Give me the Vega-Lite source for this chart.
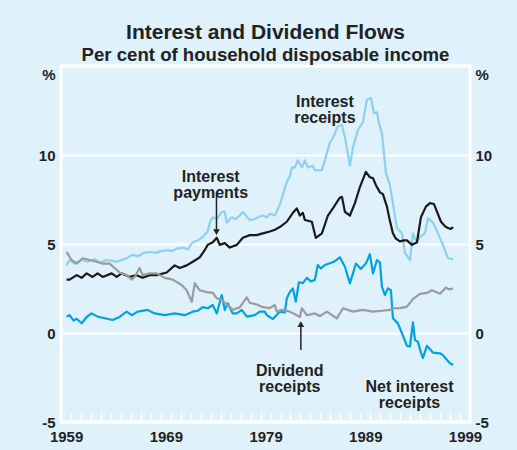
{
  "$schema": "https://vega.github.io/schema/vega-lite/v6.json",
  "width": 409,
  "height": 356,
  "autosize": {"type": "none"},
  "padding": {"left": 61, "top": 66, "right": 47, "bottom": 28},
  "background": "#DFF1FA",
  "title": {
    "text": "Interest and Dividend Flows",
    "subtitle": "Per cent of household disposable income",
    "anchor": "middle",
    "font": "Liberation Sans",
    "fontSize": 21,
    "fontWeight": "bold",
    "color": "#222222",
    "subtitleFont": "Liberation Sans",
    "subtitleFontSize": 18.6,
    "subtitleFontWeight": "bold",
    "subtitleColor": "#222222",
    "subtitlePadding": 3,
    "offset": 1
  },
  "config": {
    "view": {"stroke": "white", "strokeWidth": 3, "fill": null},
    "axis": {"labelFont": "Liberation Sans", "labelFontSize": 15, "labelFontWeight": "bold", "labelColor": "#222222", "title": null}
  },
  "datasets": {
    "series": [
      {"s":"IR","year":1959.55,"value":3.8},{"s":"IR","year":1959.85,"value":4.1},{"s":"IR","year":1960.36,"value":3.9},{"s":"IR","year":1961.06,"value":4.1},{"s":"IR","year":1961.66,"value":4.0},{"s":"IR","year":1962.36,"value":4.15},{"s":"IR","year":1962.86,"value":3.95},{"s":"IR","year":1963.57,"value":4.1},{"s":"IR","year":1964.17,"value":4.05},{"s":"IR","year":1964.57,"value":4.0},{"s":"IR","year":1965.07,"value":4.1},{"s":"IR","year":1965.57,"value":4.2},{"s":"IR","year":1966.18,"value":4.4},{"s":"IR","year":1966.68,"value":4.3},{"s":"IR","year":1967.28,"value":4.5},{"s":"IR","year":1967.88,"value":4.55},{"s":"IR","year":1968.49,"value":4.5},{"s":"IR","year":1968.99,"value":4.6},{"s":"IR","year":1969.59,"value":4.65},{"s":"IR","year":1970.09,"value":4.6},{"s":"IR","year":1970.69,"value":4.75},{"s":"IR","year":1971.2,"value":4.8},{"s":"IR","year":1971.7,"value":4.7},{"s":"IR","year":1972.2,"value":5.1},{"s":"IR","year":1972.7,"value":5.2},{"s":"IR","year":1973.2,"value":5.4},{"s":"IR","year":1973.7,"value":5.7},{"s":"IR","year":1973.9,"value":6.2},{"s":"IR","year":1974.21,"value":6.5},{"s":"IR","year":1974.61,"value":6.4},{"s":"IR","year":1975.11,"value":6.8},{"s":"IR","year":1975.41,"value":6.8},{"s":"IR","year":1975.61,"value":6.2},{"s":"IR","year":1975.91,"value":6.4},{"s":"IR","year":1976.11,"value":6.5},{"s":"IR","year":1976.52,"value":6.4},{"s":"IR","year":1976.92,"value":6.6},{"s":"IR","year":1977.22,"value":6.8},{"s":"IR","year":1977.52,"value":6.6},{"s":"IR","year":1977.92,"value":6.35},{"s":"IR","year":1978.42,"value":6.4},{"s":"IR","year":1978.92,"value":6.55},{"s":"IR","year":1979.23,"value":6.6},{"s":"IR","year":1979.63,"value":6.5},{"s":"IR","year":1979.93,"value":6.7},{"s":"IR","year":1980.43,"value":6.6},{"s":"IR","year":1980.93,"value":7.2},{"s":"IR","year":1981.63,"value":8.5},{"s":"IR","year":1981.94,"value":8.8},{"s":"IR","year":1982.14,"value":9.3},{"s":"IR","year":1982.44,"value":9.3},{"s":"IR","year":1982.74,"value":9.7},{"s":"IR","year":1983.14,"value":9.3},{"s":"IR","year":1983.44,"value":9.7},{"s":"IR","year":1983.74,"value":9.3},{"s":"IR","year":1984.24,"value":9.4},{"s":"IR","year":1984.44,"value":9.15},{"s":"IR","year":1985.15,"value":9.15},{"s":"IR","year":1985.45,"value":9.7},{"s":"IR","year":1985.95,"value":10.7},{"s":"IR","year":1986.25,"value":10.95},{"s":"IR","year":1986.75,"value":11.6},{"s":"IR","year":1987.15,"value":11.7},{"s":"IR","year":1987.46,"value":11.0},{"s":"IR","year":1987.96,"value":9.4},{"s":"IR","year":1988.26,"value":10.4},{"s":"IR","year":1988.76,"value":11.4},{"s":"IR","year":1989.26,"value":11.85},{"s":"IR","year":1989.66,"value":13.1},{"s":"IR","year":1990.07,"value":13.2},{"s":"IR","year":1990.37,"value":12.35},{"s":"IR","year":1990.67,"value":12.4},{"s":"IR","year":1990.87,"value":11.8},{"s":"IR","year":1991.17,"value":11.2},{"s":"IR","year":1991.57,"value":9.0},{"s":"IR","year":1991.97,"value":8.3},{"s":"IR","year":1992.27,"value":7.3},{"s":"IR","year":1992.67,"value":5.9},{"s":"IR","year":1993.18,"value":5.6},{"s":"IR","year":1993.48,"value":4.5},{"s":"IR","year":1993.98,"value":4.1},{"s":"IR","year":1994.28,"value":5.6},{"s":"IR","year":1994.68,"value":5.05},{"s":"IR","year":1994.98,"value":5.4},{"s":"IR","year":1995.48,"value":5.6},{"s":"IR","year":1995.79,"value":6.45},{"s":"IR","year":1996.29,"value":6.2},{"s":"IR","year":1996.79,"value":5.6},{"s":"IR","year":1997.29,"value":4.95},{"s":"IR","year":1997.79,"value":4.2},{"s":"IR","year":1998.3,"value":4.15},

      {"s":"IP","year":1959.55,"value":3.0},{"s":"IP","year":1959.85,"value":3.0},{"s":"IP","year":1960.56,"value":3.25},{"s":"IP","year":1961.06,"value":3.1},{"s":"IP","year":1961.56,"value":3.35},{"s":"IP","year":1962.16,"value":3.15},{"s":"IP","year":1962.66,"value":3.35},{"s":"IP","year":1963.17,"value":3.15},{"s":"IP","year":1964.07,"value":3.35},{"s":"IP","year":1964.57,"value":3.15},{"s":"IP","year":1965.07,"value":3.35},{"s":"IP","year":1965.88,"value":3.15},{"s":"IP","year":1966.58,"value":3.25},{"s":"IP","year":1967.17,"value":3.1},{"s":"IP","year":1967.88,"value":3.25},{"s":"IP","year":1968.59,"value":3.25},{"s":"IP","year":1969.59,"value":3.4},{"s":"IP","year":1970.39,"value":3.8},{"s":"IP","year":1970.89,"value":3.65},{"s":"IP","year":1971.6,"value":3.8},{"s":"IP","year":1972.2,"value":4.0},{"s":"IP","year":1972.9,"value":4.25},{"s":"IP","year":1973.4,"value":4.65},{"s":"IP","year":1973.7,"value":4.95},{"s":"IP","year":1974.21,"value":5.1},{"s":"IP","year":1974.61,"value":5.35},{"s":"IP","year":1974.91,"value":4.95},{"s":"IP","year":1975.41,"value":5.05},{"s":"IP","year":1975.91,"value":4.8},{"s":"IP","year":1976.62,"value":4.95},{"s":"IP","year":1977.22,"value":5.35},{"s":"IP","year":1977.92,"value":5.5},{"s":"IP","year":1978.6,"value":5.5},{"s":"IP","year":1979.23,"value":5.6},{"s":"IP","year":1979.93,"value":5.7},{"s":"IP","year":1980.43,"value":5.8},{"s":"IP","year":1980.93,"value":5.95},{"s":"IP","year":1981.63,"value":6.25},{"s":"IP","year":1982.24,"value":6.75},{"s":"IP","year":1982.64,"value":7.0},{"s":"IP","year":1982.94,"value":6.6},{"s":"IP","year":1983.24,"value":6.75},{"s":"IP","year":1983.44,"value":6.35},{"s":"IP","year":1984.14,"value":6.25},{"s":"IP","year":1984.54,"value":5.35},{"s":"IP","year":1985.15,"value":5.6},{"s":"IP","year":1985.75,"value":6.6},{"s":"IP","year":1986.25,"value":7.0},{"s":"IP","year":1986.95,"value":7.6},{"s":"IP","year":1987.16,"value":7.65},{"s":"IP","year":1987.46,"value":6.8},{"s":"IP","year":1987.96,"value":6.6},{"s":"IP","year":1988.46,"value":7.3},{"s":"IP","year":1988.96,"value":8.2},{"s":"IP","year":1989.56,"value":9.05},{"s":"IP","year":1989.96,"value":8.75},{"s":"IP","year":1990.27,"value":8.7},{"s":"IP","year":1990.57,"value":8.3},{"s":"IP","year":1990.97,"value":7.9},{"s":"IP","year":1991.27,"value":7.8},{"s":"IP","year":1991.67,"value":7.1},{"s":"IP","year":1991.97,"value":6.3},{"s":"IP","year":1992.27,"value":5.6},{"s":"IP","year":1992.57,"value":5.3},{"s":"IP","year":1992.97,"value":5.15},{"s":"IP","year":1993.38,"value":5.2},{"s":"IP","year":1993.68,"value":5.2},{"s":"IP","year":1994.18,"value":4.95},{"s":"IP","year":1994.68,"value":5.1},{"s":"IP","year":1995.08,"value":6.5},{"s":"IP","year":1995.58,"value":7.1},{"s":"IP","year":1995.98,"value":7.3},{"s":"IP","year":1996.38,"value":7.25},{"s":"IP","year":1997.09,"value":6.25},{"s":"IP","year":1997.49,"value":6.0},{"s":"IP","year":1997.79,"value":5.9},{"s":"IP","year":1998.09,"value":5.85},{"s":"IP","year":1998.3,"value":5.95},

      {"s":"NIR","year":1959.55,"value":0.92},{"s":"NIR","year":1959.85,"value":1.0},{"s":"NIR","year":1960.25,"value":0.7},{"s":"NIR","year":1960.56,"value":0.8},{"s":"NIR","year":1961.06,"value":0.55},{"s":"NIR","year":1961.56,"value":0.9},{"s":"NIR","year":1962.06,"value":1.1},{"s":"NIR","year":1962.66,"value":0.92},{"s":"NIR","year":1963.37,"value":0.83},{"s":"NIR","year":1964.17,"value":0.73},{"s":"NIR","year":1964.87,"value":0.9},{"s":"NIR","year":1965.57,"value":1.2},{"s":"NIR","year":1966.08,"value":1.0},{"s":"NIR","year":1966.68,"value":1.2},{"s":"NIR","year":1967.68,"value":1.3},{"s":"NIR","year":1968.38,"value":1.1},{"s":"NIR","year":1969.39,"value":1.0},{"s":"NIR","year":1970.39,"value":1.1},{"s":"NIR","year":1971.4,"value":1.0},{"s":"NIR","year":1972.2,"value":1.2},{"s":"NIR","year":1972.7,"value":1.25},{"s":"NIR","year":1973.2,"value":1.45},{"s":"NIR","year":1973.7,"value":1.39},{"s":"NIR","year":1974.21,"value":1.57},{"s":"NIR","year":1974.61,"value":1.1},{"s":"NIR","year":1975.11,"value":2.13},{"s":"NIR","year":1975.41,"value":1.3},{"s":"NIR","year":1975.71,"value":1.67},{"s":"NIR","year":1976.21,"value":1.1},{"s":"NIR","year":1976.62,"value":1.1},{"s":"NIR","year":1977.12,"value":1.3},{"s":"NIR","year":1977.62,"value":0.92},{"s":"NIR","year":1978.42,"value":1.0},{"s":"NIR","year":1978.92,"value":1.2},{"s":"NIR","year":1979.42,"value":1.2},{"s":"NIR","year":1979.63,"value":1.0},{"s":"NIR","year":1980.23,"value":0.78},{"s":"NIR","year":1980.93,"value":1.2},{"s":"NIR","year":1981.43,"value":1.15},{"s":"NIR","year":1981.63,"value":1.95},{"s":"NIR","year":1981.94,"value":2.3},{"s":"NIR","year":1982.24,"value":2.5},{"s":"NIR","year":1982.54,"value":1.76},{"s":"NIR","year":1982.84,"value":2.85},{"s":"NIR","year":1983.24,"value":2.8},{"s":"NIR","year":1983.64,"value":3.1},{"s":"NIR","year":1984.04,"value":2.9},{"s":"NIR","year":1984.44,"value":2.98},{"s":"NIR","year":1984.74,"value":3.82},{"s":"NIR","year":1985.05,"value":3.63},{"s":"NIR","year":1985.45,"value":3.82},{"s":"NIR","year":1985.95,"value":3.92},{"s":"NIR","year":1986.35,"value":4.0},{"s":"NIR","year":1986.95,"value":4.25},{"s":"NIR","year":1987.46,"value":3.72},{"s":"NIR","year":1987.96,"value":2.79},{"s":"NIR","year":1988.56,"value":3.9},{"s":"NIR","year":1989.06,"value":3.6},{"s":"NIR","year":1989.56,"value":3.9},{"s":"NIR","year":1989.96,"value":4.43},{"s":"NIR","year":1990.27,"value":3.35},{"s":"NIR","year":1990.67,"value":4.1},{"s":"NIR","year":1990.97,"value":3.95},{"s":"NIR","year":1991.17,"value":2.6},{"s":"NIR","year":1991.47,"value":2.13},{"s":"NIR","year":1991.77,"value":2.51},{"s":"NIR","year":1992.07,"value":2.4},{"s":"NIR","year":1992.27,"value":0.83},{"s":"NIR","year":1992.77,"value":0.54},{"s":"NIR","year":1993.28,"value":-0.16},{"s":"NIR","year":1993.68,"value":-0.72},{"s":"NIR","year":1993.98,"value":-0.75},{"s":"NIR","year":1994.28,"value":0.6},{"s":"NIR","year":1994.48,"value":-0.39},{"s":"NIR","year":1994.78,"value":-0.5},{"s":"NIR","year":1995.08,"value":-1.1},{"s":"NIR","year":1995.28,"value":-1.4},{"s":"NIR","year":1995.68,"value":-0.72},{"s":"NIR","year":1996.28,"value":-1.1},{"s":"NIR","year":1996.99,"value":-1.14},{"s":"NIR","year":1997.29,"value":-1.24},{"s":"NIR","year":1997.59,"value":-1.45},{"s":"NIR","year":1997.99,"value":-1.7},{"s":"NIR","year":1998.3,"value":-1.8},

      {"s":"DR","year":1959.55,"value":4.55},{"s":"DR","year":1960.05,"value":4.1},{"s":"DR","year":1960.56,"value":3.9},{"s":"DR","year":1961.16,"value":4.2},{"s":"DR","year":1961.86,"value":4.1},{"s":"DR","year":1962.56,"value":4.0},{"s":"DR","year":1963.17,"value":3.9},{"s":"DR","year":1963.87,"value":3.9},{"s":"DR","year":1964.37,"value":3.65},{"s":"DR","year":1964.87,"value":3.4},{"s":"DR","year":1965.57,"value":3.25},{"s":"DR","year":1966.08,"value":3.0},{"s":"DR","year":1966.38,"value":3.15},{"s":"DR","year":1966.87,"value":3.65},{"s":"DR","year":1967.18,"value":3.25},{"s":"DR","year":1967.88,"value":3.35},{"s":"DR","year":1968.59,"value":3.35},{"s":"DR","year":1969.38,"value":3.1},{"s":"DR","year":1970.19,"value":3.0},{"s":"DR","year":1971.09,"value":2.7},{"s":"DR","year":1971.59,"value":2.4},{"s":"DR","year":1972.1,"value":1.75},{"s":"DR","year":1972.4,"value":2.8},{"s":"DR","year":1972.9,"value":2.4},{"s":"DR","year":1973.6,"value":2.3},{"s":"DR","year":1974.21,"value":2.25},{"s":"DR","year":1974.61,"value":1.95},{"s":"DR","year":1975.11,"value":1.85},{"s":"DR","year":1975.61,"value":1.6},{"s":"DR","year":1976.22,"value":1.3},{"s":"DR","year":1976.92,"value":1.45},{"s":"DR","year":1977.62,"value":2.0},{"s":"DR","year":1977.92,"value":1.7},{"s":"DR","year":1978.63,"value":1.6},{"s":"DR","year":1979.23,"value":1.45},{"s":"DR","year":1979.93,"value":1.4},{"s":"DR","year":1980.43,"value":1.57},{"s":"DR","year":1980.63,"value":1.2},{"s":"DR","year":1981.13,"value":1.3},{"s":"DR","year":1981.94,"value":1.2},{"s":"DR","year":1982.94,"value":0.9},{"s":"DR","year":1983.14,"value":1.39},{"s":"DR","year":1983.64,"value":1.0},{"s":"DR","year":1984.44,"value":1.1},{"s":"DR","year":1984.95,"value":0.95},{"s":"DR","year":1985.65,"value":1.2},{"s":"DR","year":1986.65,"value":0.82},{"s":"DR","year":1987.26,"value":1.39},{"s":"DR","year":1988.26,"value":1.2},{"s":"DR","year":1989.26,"value":1.3},{"s":"DR","year":1990.27,"value":1.2},{"s":"DR","year":1991.17,"value":1.25},{"s":"DR","year":1991.97,"value":1.3},{"s":"DR","year":1992.27,"value":1.39},{"s":"DR","year":1992.97,"value":1.4},{"s":"DR","year":1993.68,"value":1.48},{"s":"DR","year":1994.28,"value":1.9},{"s":"DR","year":1994.98,"value":2.2},{"s":"DR","year":1995.68,"value":2.25},{"s":"DR","year":1996.18,"value":2.4},{"s":"DR","year":1996.99,"value":2.2},{"s":"DR","year":1997.59,"value":2.55},{"s":"DR","year":1997.89,"value":2.45},{"s":"DR","year":1998.3,"value":2.5}
    ],
    "notes": [
      {"label": ["Interest", "receipts"], "year": 1985.45, "value": 12.97},
      {"label": ["Interest", "payments"], "year": 1974.0, "value": 8.79},
      {"label": ["Dividend", "receipts"], "year": 1981.93, "value": -2.12},
      {"label": ["Net interest", "receipts"], "year": 1993.93, "value": -3.06}
    ],
    "arrows": [
      {"year": 1974.58, "value": 7.87, "value2": 5.67, "shape": "triangle-down"},
      {"year": 1983.04, "value": -0.96, "value2": 0.5, "shape": "triangle-up"}
    ]
  },
  "layer": [
    {
      "data": {"name": "series"},
      "mark": {"type": "line", "strokeWidth": 2.2, "strokeJoin": "round"},
      "encoding": {
        "x": {
          "field": "year",
          "type": "quantitative",
          "scale": {"domain": [1958.99, 2000], "nice": false, "zero": false},
          "axis": {
            "orient": "bottom",
            "values": [1959,1960,1961,1962,1963,1964,1965,1966,1967,1968,1969,1970,1971,1972,1973,1974,1975,1976,1977,1978,1979,1980,1981,1982,1983,1984,1985,1986,1987,1988,1989,1990,1991,1992,1993,1994,1995,1996,1997,1998,1999],
            "labelExpr": "(datum.value - 1959) % 10 == 0 ? '' + datum.value : ''",
            "labelOffset": 5,
            "labelFlush": false,
            "labelOverlap": false,
            "offset": -9,
            "ticks": true,
            "tickSize": 9,
            "tickColor": "white",
            "tickWidth": 1.5,
            "labelPadding": 7,
            "domain": false,
            "grid": false
          }
        },
        "y": {
          "field": "value",
          "type": "quantitative",
          "scale": {"domain": [-5, 15], "nice": false, "zero": false},
          "axis": {
            "orient": "left",
            "values": [-5, 0, 5, 10, 15],
            "labelExpr": "datum.value == 15 ? '%' : '' + datum.value",
            "labelOffset": {"condition": {"test": "datum.value == 15", "value": 8}, "value": 0},
            "labelPadding": 6,
            "ticks": false,
            "domain": false,
            "grid": true,
            "gridColor": "white",
            "gridWidth": 2,
            "gridOpacity": 1
          }
        },
        "color": {
          "field": "s",
          "type": "nominal",
          "scale": {"domain": ["IR", "IP", "NIR", "DR"], "range": ["#8DD0F2", "#1A1A1A", "#00A3E0", "#9A9C9E"]},
          "legend": null
        }
      }
    },
    {
      "data": {"name": "notes"},
      "mark": {"type": "text", "font": "Liberation Sans", "fontSize": 16, "fontWeight": "bold", "color": "#222222", "baseline": "middle", "align": "center", "lineHeight": 16},
      "encoding": {
        "x": {"field": "year", "type": "quantitative", "scale": {"domain": [1958.99, 2000], "nice": false, "zero": false}, "axis": null},
        "y": {
          "field": "value",
          "type": "quantitative",
          "scale": {"domain": [-5, 15], "nice": false, "zero": false},
          "axis": {
            "orient": "right",
            "values": [-5, 0, 5, 10, 15],
            "labelExpr": "datum.value == 15 ? '%' : '' + datum.value",
            "labelOffset": {"condition": {"test": "datum.value == 15", "value": 8}, "value": 0},
            "labelPadding": 5,
            "ticks": false,
            "domain": false,
            "grid": false
          }
        },
        "text": {"field": "label"}
      }
    },
    {
      "data": {"name": "arrows"},
      "mark": {"type": "rule", "strokeWidth": 1.5, "color": "#222222"},
      "encoding": {
        "x": {"field": "year", "type": "quantitative", "scale": {"domain": [1958.99, 2000], "nice": false, "zero": false}, "axis": null},
        "y": {"field": "value", "type": "quantitative", "scale": {"domain": [-5, 15], "nice": false, "zero": false}, "axis": null},
        "y2": {"field": "value2"}
      }
    },
    {
      "data": {"name": "arrows"},
      "mark": {"type": "point", "filled": true, "size": 45, "color": "#222222", "opacity": 1},
      "encoding": {
        "x": {"field": "year", "type": "quantitative", "scale": {"domain": [1958.99, 2000], "nice": false, "zero": false}, "axis": null},
        "y": {"field": "value2", "type": "quantitative", "scale": {"domain": [-5, 15], "nice": false, "zero": false}, "axis": null},
        "shape": {"field": "shape", "type": "nominal", "scale": null}
      }
    }
  ],
  "resolve": {"axis": {"x": "independent", "y": "independent"}}
}
